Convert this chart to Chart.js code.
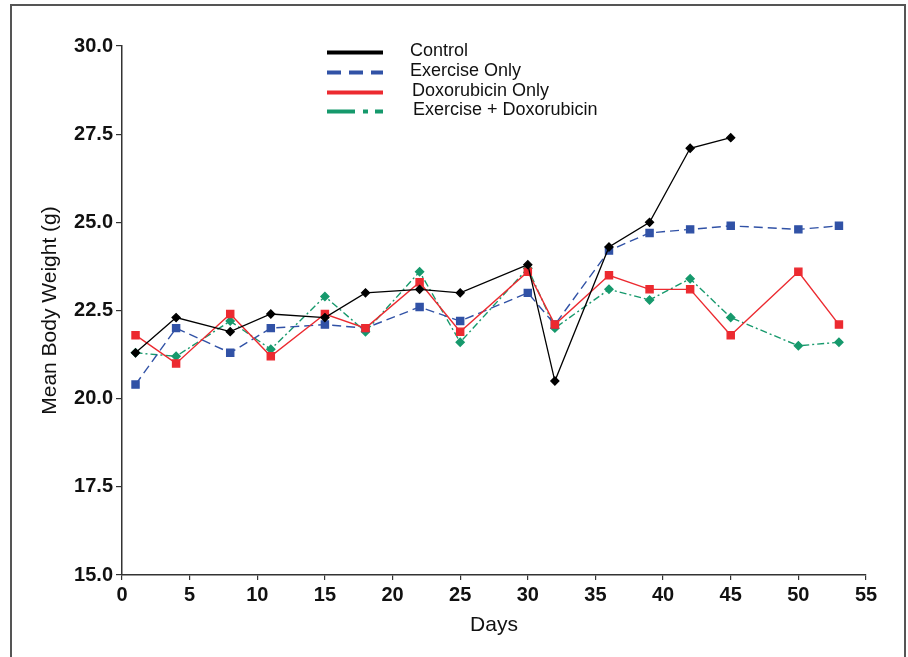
<!DOCTYPE html>
<html>
<head>
<meta charset="utf-8">
<title>Mean Body Weight</title>
<script src="https://cdn.jsdelivr.net/npm/chart.js@4"></script>
<style>
  html, body { margin: 0; padding: 0; background: #fff; }
  #wrap { width: 908px; height: 657px; }
</style>
</head>
<body>
<div id="wrap"><canvas id="lineChart" width="908" height="657"></canvas></div>
<script>
"use strict"

// dagar då vikten mättes
const days = [1, 4, 8, 11, 15, 18, 22, 25, 30, 32, 36, 39, 42, 45, 50, 53];

// medelvikt (g) per grupp
const control = [21.3, 22.3, 21.9, 22.4, 22.3, 23.0, 23.1, 23.0, 23.8, 20.5, 24.3, 25.0, 27.1, 27.4, null, null];
const exerciseOnly = [20.4, 22.0, 21.3, 22.0, 22.1, 22.0, 22.6, 22.2, 23.0, 22.1, 24.2, 24.7, 24.8, 24.9, 24.8, 24.9];
const doxOnly = [21.8, 21.0, 22.4, 21.2, 22.4, 22.0, 23.3, 21.9, 23.6, 22.1, 23.5, 23.1, 23.1, 21.8, 23.6, 22.1];
const exerciseDox = [21.3, 21.2, 22.2, 21.4, 22.9, 21.9, 23.6, 21.6, 23.7, 22.0, 23.1, 22.8, 23.4, 22.3, 21.5, 21.6];

const groupNames = ["Control", "Exercise Only", "Doxorubicin Only", "Exercise + Doxorubicin"];
const yTicks = [15.0, 17.5, 20.0, 22.5, 25.0, 27.5, 30.0];
const xTicks = [0, 5, 10, 15, 20, 25, 30, 35, 40, 45, 50, 55];

const FONT = "'Liberation Sans', Arial, sans-serif";

function toPoints(values) {
    return days.map((d, i) => ({ x: d, y: values[i] })).filter(p => p.y !== null);
}

// ritar ram runt hela figuren
const framePlugin = {
    id: 'frame',
    beforeDraw(chart) {
        const ctx = chart.ctx;
        ctx.save();
        ctx.fillStyle = '#fff';
        ctx.fillRect(0, 0, chart.width, chart.height);
        ctx.strokeStyle = '#555';
        ctx.lineWidth = 2;
        ctx.strokeRect(11, 5, 894, 700);
        ctx.restore();
    }
};

// egen legend, staplad vertikalt ovanför kurvorna
const legendPlugin = {
    id: 'stackedLegend',
    afterDraw(chart) {
        const ctx = chart.ctx;
        const rows = [52.5, 72.5, 92.5, 111.5];
        const textX = [410, 410, 412, 413];
        const dashes = [[], [14, 8], [], [28, 8, 5, 7]];
        ctx.save();
        chart.data.datasets.forEach((ds, i) => {
            ctx.beginPath();
            ctx.setLineDash(dashes[i]);
            ctx.strokeStyle = ds.borderColor;
            ctx.lineWidth = 4;
            ctx.moveTo(327, rows[i]);
            ctx.lineTo(383, rows[i]);
            ctx.stroke();
            ctx.setLineDash([]);
            ctx.fillStyle = '#111';
            ctx.font = '18px ' + FONT;
            ctx.textBaseline = 'middle';
            ctx.fillText(ds.label, textX[i], rows[i] - 1);
        });
        ctx.restore();
    }
};

new Chart(
    document.getElementById('lineChart'),
    {
        type: 'line',
        data: {
            datasets: [
                {
                    label: groupNames[0],
                    data: toPoints(control),
                    borderColor: '#000',
                    backgroundColor: '#000',
                    borderWidth: 1.3,
                    pointStyle: 'rectRot',
                    pointRadius: 4,
                    order: 1
                },
                {
                    label: groupNames[1],
                    data: toPoints(exerciseOnly),
                    borderColor: '#3152a6',
                    backgroundColor: '#3152a6',
                    borderWidth: 1.4,
                    borderDash: [9, 5],
                    pointStyle: 'rect',
                    pointRadius: 5,
                    order: 3
                },
                {
                    label: groupNames[2],
                    data: toPoints(doxOnly),
                    borderColor: '#ec2a30',
                    backgroundColor: '#ec2a30',
                    borderWidth: 1.4,
                    pointStyle: 'rect',
                    pointRadius: 5,
                    order: 2
                },
                {
                    label: groupNames[3],
                    data: toPoints(exerciseDox),
                    borderColor: '#16996c',
                    backgroundColor: '#16996c',
                    borderWidth: 1.4,
                    borderDash: [7, 3, 2, 3],
                    pointStyle: 'rectRot',
                    pointRadius: 4,
                    order: 4
                }
            ]
        },
        options: {
            responsive: false,
            animation: false,
            layout: { padding: { top: 46, right: 42, left: 0, bottom: 0 } },
            plugins: {
                legend: { display: false },
                tooltip: { enabled: false }
            },
            elements: {
                line: { tension: 0 },
                point: { borderWidth: 0, hoverRadius: 4 }
            },
            scales: {
                x: {
                    type: 'linear',
                    min: 0,
                    max: 55,
                    afterFit: (scale) => { scale.height = 82; },
                    afterBuildTicks: (scale) => { scale.ticks = xTicks.map(v => ({ value: v })); },
                    border: { display: true, color: '#333', width: 1.5 },
                    grid: { drawOnChartArea: false, drawTicks: true, tickLength: 5, color: '#333', lineWidth: 1.2 },
                    ticks: {
                        color: '#111',
                        padding: 3,
                        maxRotation: 0,
                        font: { family: FONT, size: 20, weight: 'bold' }
                    },
                    title: {
                        display: true,
                        text: 'Days',
                        color: '#111',
                        padding: { top: 0, bottom: 19 },
                        font: { family: FONT, size: 21 }
                    }
                },
                y: {
                    min: 15,
                    max: 30,
                    afterFit: (scale) => { scale.width = 122; },
                    afterBuildTicks: (scale) => { scale.ticks = yTicks.map(v => ({ value: v })); },
                    border: { display: true, color: '#333', width: 1.5 },
                    grid: { drawOnChartArea: false, drawTicks: true, tickLength: 6, color: '#333', lineWidth: 1.2 },
                    ticks: {
                        color: '#111',
                        padding: 3,
                        font: { family: FONT, size: 20, weight: 'bold' },
                        callback: (v) => v.toFixed(1)
                    },
                    title: {
                        display: true,
                        text: 'Mean Body Weight (g)',
                        color: '#111',
                        padding: { top: 38, bottom: 0 },
                        font: { family: FONT, size: 21 }
                    }
                }
            }
        },
        plugins: [framePlugin, legendPlugin]
    }
);
</script>
</body>
</html>
